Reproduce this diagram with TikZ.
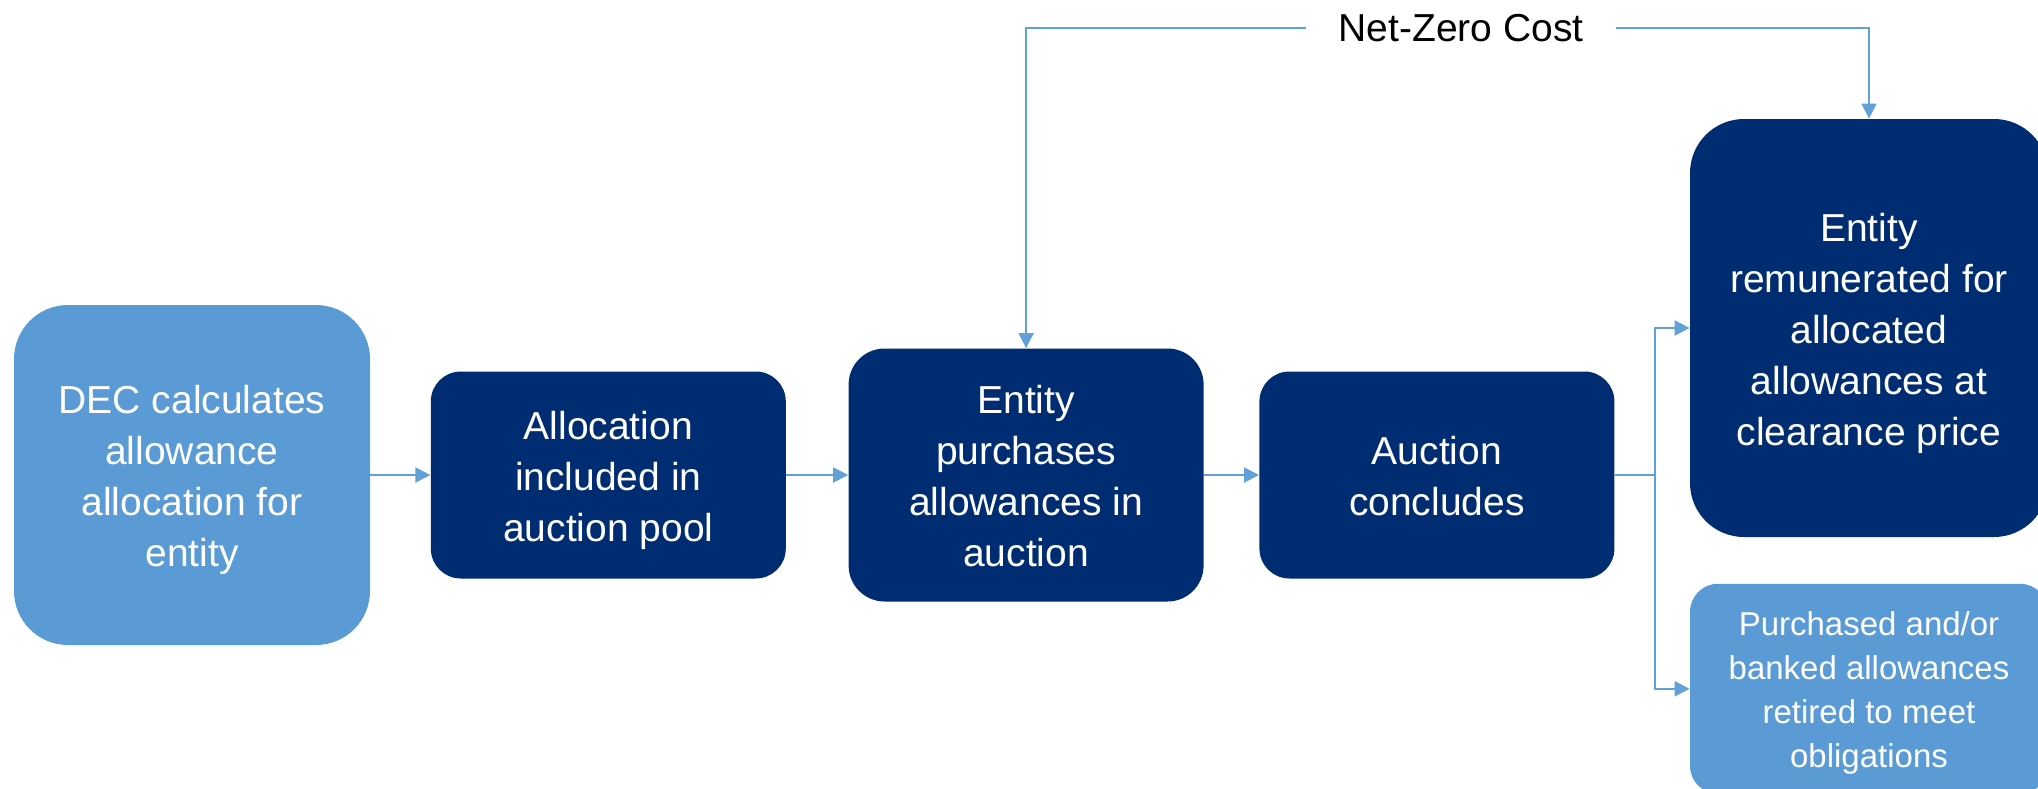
\documentclass[tikz,border=0pt]{standalone}
\usepackage{fontspec}
\setmainfont{Liberation Sans}
\usepackage{xcolor}
\usetikzlibrary{positioning, arrows.meta}
\definecolor{navyblue}{RGB}{0,45,114}
\definecolor{skyblue}{RGB}{91,155,213}
\definecolor{linkblue}{RGB}{98,160,216}
\newcommand{\boxstrut}{\rule{0pt}{20pt}}

\begin{document}
\begin{tikzpicture}[x=0.5pt, y=-0.5pt,
  box/.style={rounded corners=15pt, inner sep=0pt, minimum width=177.5pt, align=center, text=white,
    font=\fontsize{19.5}{25.5}\selectfont},
  darkbox/.style={box, fill=navyblue},
  paleblue/.style={box, fill=skyblue},
  conn/.style={-{Triangle[length=7.5pt, width=7.5pt]}, line width=1pt, color=linkblue},
  link/.style={line width=1pt, color=linkblue}]
  \useasboundingbox (0,0) rectangle (2038,788);

  \node[paleblue, minimum width=178pt, minimum height=170pt, rounded corners=27pt] (calc) at (192,475)
    {\boxstrut DEC calculates\\allowance\\allocation for\\entity\rule[-5pt]{0pt}{0pt}};
  \node[darkbox, minimum height=103.5pt, right=30pt of calc] (pool)
    {\boxstrut Allocation\\included in\\auction pool\rule[-5pt]{0pt}{0pt}};
  \node[darkbox, minimum height=126.5pt, rounded corners=18pt, right=31pt of pool] (purchase)
    {\boxstrut Entity\\purchases\\allowances in\\auction\rule[-5pt]{0pt}{0pt}};
  \node[darkbox, minimum height=103.5pt, right=27.5pt of purchase] (concl)
    {\boxstrut Auction\\concludes\rule[-5pt]{0pt}{0pt}};
  \node[darkbox, minimum width=179pt, minimum height=209pt, rounded corners=27pt] (remun) at (1869,328)
    {\boxstrut Entity\\remunerated for\\allocated\\allowances at\\clearance price\rule[-5pt]{0pt}{0pt}};
  \node[paleblue, minimum width=179pt, minimum height=105pt, rounded corners=14pt, below=23pt of remun,
    font=\fontsize{16.5}{22}\selectfont] (retire)
    {\rule{0pt}{17pt}Purchased and/or\\banked allowances\\retired to meet\\obligations\rule[-4pt]{0pt}{0pt}};
  \node[inner xsep=16pt, inner ysep=2pt, font=\fontsize{19.5}{24}\selectfont] (netzero) at (1461,28) {Net-Zero Cost};

  \draw[conn] (calc) -- (pool);
  \draw[conn] (pool) -- (purchase);
  \draw[conn] (purchase) -- (concl);
  \draw[conn] (netzero.west) -| (purchase.north);
  \draw[conn] (netzero.east) -| (remun.north);
  \coordinate (split) at ([xshift=20pt]concl.east);
  \draw[link] (concl.east) -- (split);
  \draw[conn] (split) |- (remun.west);
  \draw[conn] (split) |- (retire.west);
\end{tikzpicture}
\end{document}
